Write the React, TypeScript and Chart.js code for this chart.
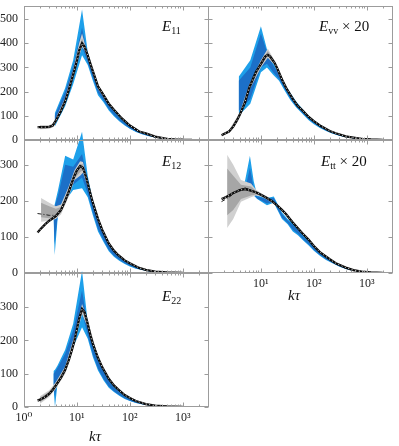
import React, { useEffect, useRef } from 'react';
import { Chart, registerables } from 'chart.js';
Chart.register(...registerables);

// ---------------- axes / ticks ----------------
const X_MIN = 1;
const X_MAX = 3000;
const X_MAJOR = [1, 10, 100, 1000];
const X_LABELS_LEFT = ['10⁰', '10¹', '10²', '10³'];
const X_LABELS_RIGHT = ['', '10¹', '10²', '10³'];
const Y_TICKS_ROW1 = [0, 100, 200, 300, 400, 500];
const Y_TICKS_ROW2 = [0, 100, 200, 300];
const Y_TICKS_ROW3 = [0, 100, 200, 300];

// ---------------- E11 ----------------
const e11K = [1.8, 2, 2.5, 3, 3.5, 4, 5, 6, 7, 8, 9, 10, 11, 12.5, 14, 16, 18, 20, 25, 30, 40, 50, 70, 100, 150, 200, 300, 500, 700, 1000, 1500];
const e11Line = [53, 53, 53, 54, 60, 80, 120, 160, 205, 250, 290, 330, 370, 400, 385, 350, 315, 285, 222, 195, 150, 125, 90, 60, 35, 27, 14, 5, 2.5, 1, 0.3];
const e11BlueK = [3.8, 6, 8.5, 12.5, 16, 20, 25, 32, 40, 50, 63, 80, 100, 130, 170, 220, 300, 400, 550, 750, 1000];
const e11BlueLightHi = [110, 215, 330, 540, 365, 290, 225, 185, 150, 121, 95, 75, 58, 42, 31, 22, 13, 8, 4, 2, 0.8];
const e11BlueLightLo = [55, 140, 230, 350, 310, 245, 185, 155, 122, 98, 78, 60, 46, 33, 24, 17, 10, 6, 3, 1.5, 0.5];
const e11BlueDarkHi = [100, 200, 305, 465, 350, 280, 218, 178, 145, 117, 92, 72, 56, 40, 30, 21, 12.5, 7.5, 3.8, 1.9, 0.75];
const e11BlueDarkLo = [65, 155, 250, 385, 320, 255, 195, 162, 128, 103, 82, 63, 48, 35, 25, 18, 10.5, 6.3, 3.2, 1.6, 0.55];
const e11GrayK = [2, 3, 3.5, 4, 6, 8.5, 11, 12.5, 14, 18, 25, 40];
const e11GrayLightHi = [62, 62, 68, 90, 175, 290, 400, 440, 400, 325, 232, 155];
const e11GrayLightLo = [44, 46, 52, 70, 150, 255, 345, 385, 370, 305, 212, 145];
const e11GrayDarkHi = [58, 58, 64, 86, 168, 282, 385, 420, 392, 320, 228, 153];
const e11GrayDarkLo = [48, 50, 56, 74, 155, 262, 355, 392, 375, 310, 216, 147];

// ---------------- Evv x 20 ----------------
const evvK = [1.8, 2, 2.5, 3, 3.5, 4, 5, 6, 7, 8, 10, 12, 13.5, 15, 18, 20, 25, 30, 40, 50, 60, 80, 100, 130, 200, 260, 400, 560, 800, 1200, 2000];
const evvLine = [20, 25, 35, 55, 80, 105, 155, 215, 250, 280, 315, 345, 352, 345, 320, 300, 250, 215, 170, 140, 124, 95, 78, 60, 37, 28, 15, 10, 5, 2, 0.5];
const evvBlueK = [3.8, 6.3, 10, 13, 17, 22, 28, 36, 46, 60, 80, 100, 130, 170, 220, 300, 400, 550, 750, 1000];
const evvBlueLightHi = [261, 330, 470, 375, 320, 280, 235, 195, 160, 130, 100, 82, 64, 48, 36, 24, 16, 10, 5, 2];
const evvBlueLightLo = [100, 150, 280, 300, 270, 245, 205, 165, 135, 110, 82, 65, 50, 37, 27, 18, 11, 7, 3, 1];
const evvBlueDarkHi = [245, 300, 440, 365, 310, 270, 228, 188, 155, 125, 96, 78, 61, 45, 34, 22, 15, 9, 4, 1.5];
const evvBlueDarkLo = [120, 170, 300, 315, 280, 252, 212, 172, 140, 114, 86, 69, 53, 39, 29, 19, 12, 7.5, 3.5, 1.2];
const evvGrayK = [1.8, 2.5, 4, 6, 10, 13.5, 18, 25, 40];
const evvGrayLightHi = [25, 42, 115, 228, 330, 378, 330, 258, 175];
const evvGrayLightLo = [15, 30, 95, 205, 300, 340, 310, 242, 165];
const evvGrayDarkHi = [23, 39, 110, 222, 322, 368, 326, 255, 173];
const evvGrayDarkLo = [17, 32, 99, 210, 307, 346, 314, 245, 167];

// ---------------- E12 ----------------
const e12K = [1.8, 2, 2.5, 3, 3.5, 4, 5, 6, 7, 8, 9, 10, 11.5, 13, 15, 18, 20, 25, 30, 40, 50, 60, 80, 100, 150, 200, 300, 500, 1000];
const e12Line = [112, 120, 135, 145, 152, 158, 175, 200, 225, 250, 270, 285, 297, 292, 265, 220, 195, 150, 120, 82, 62, 50, 35, 27, 14, 9, 4, 1.5, 0.3];
const e12AltK = [1.8, 2.5, 3, 4, 5, 6];
const e12Alt = [165, 162, 160, 160, 172, 200];
const e12BlueK = [3.6, 3.8, 4.4, 6, 8.5, 12.5, 16, 20, 25, 32, 40, 50, 63, 80, 100, 130, 170, 220, 300, 400, 550, 750, 1000];
const e12BlueLightHi = [178, 190, 230, 325, 315, 392, 270, 200, 150, 115, 83, 62, 47, 34, 26, 18, 12, 8, 4, 2, 1, 0.5, 0.2];
const e12BlueLightLo = [163, 50, 165, 200, 230, 235, 210, 160, 115, 85, 60, 45, 34, 25, 18, 12, 8, 5, 2.5, 1.2, 0.6, 0.3, 0.1];
const e12BlueDarkHi = [175, 185, 215, 300, 295, 330, 260, 190, 143, 110, 78, 58, 44, 32, 24, 16, 11, 7, 3.5, 1.8, 0.9, 0.4, 0.15];
const e12BlueDarkLo = [165, 80, 170, 215, 245, 265, 220, 168, 122, 90, 64, 48, 37, 27, 20, 13, 9, 5.5, 2.8, 1.4, 0.7, 0.35, 0.12];
const e12GrayK = [2.1, 3, 4, 5, 7, 9, 11.5, 13, 16, 20, 30];
const e12GrayLightHi = [208, 195, 185, 190, 240, 285, 310, 308, 255, 200, 123];
const e12GrayLightLo = [142, 145, 150, 162, 212, 258, 270, 278, 240, 190, 117];
const e12GrayDarkHi = [195, 185, 178, 183, 235, 280, 302, 302, 252, 198, 122];
const e12GrayDarkLo = [155, 152, 155, 167, 217, 262, 280, 285, 243, 192, 118];

// ---------------- Ett x 20 ----------------
const ettK = [1.8, 2, 2.5, 3, 4, 5, 6, 8, 10, 13, 16, 20, 25, 30, 40, 50, 60, 80, 100, 130, 200, 260, 400, 560, 800, 1200, 2000];
const ettLine = [205, 208, 215, 222, 230, 233, 230, 224, 217, 208, 200, 188, 175, 163, 140, 124, 111, 92, 75, 58, 38, 27, 15, 8, 4, 1.5, 0.3];
const ettAltK = [1.8, 2.5, 3, 4, 5, 6, 8];
const ettAlt = [198, 210, 220, 232, 236, 232, 224];
const ettBlueK = [3.8, 5, 6.2, 7.3, 8.5, 13, 17.5, 25, 32, 40, 50, 63, 80, 100, 130, 170, 220, 300, 400, 550, 750, 1000];
const ettBlueLightHi = [205, 255, 325, 255, 215, 208, 212, 168, 150, 140, 124, 104, 90, 74, 57, 44, 34, 22, 14, 8, 4, 1.5];
const ettBlueLightLo = [197, 205, 220, 215, 205, 188, 195, 150, 135, 115, 105, 90, 76, 62, 48, 36, 28, 18, 11, 6, 3, 1];
const ettBlueDarkHi = [203, 230, 292, 235, 212, 205, 208, 164, 146, 134, 120, 100, 87, 71, 55, 42, 32, 21, 13, 7.5, 3.8, 1.4];
const ettBlueDarkLo = [199, 208, 225, 218, 207, 193, 198, 154, 139, 120, 109, 93, 79, 64, 50, 38, 29, 19, 12, 6.5, 3.2, 1.1];
const ettGrayK = [2.3, 3, 4.2, 6.5, 8, 10, 13, 20];
const ettGrayLightHi = [328, 300, 258, 248, 232, 222, 212, 190];
const ettGrayLightLo = [125, 150, 198, 210, 215, 212, 204, 186];
const ettGrayDarkHi = [290, 270, 245, 240, 228, 220, 210, 189];
const ettGrayDarkLo = [160, 175, 205, 215, 218, 214, 206, 187];

// ---------------- E22 ----------------
const e22K = [1.8, 2, 2.5, 3, 3.5, 4, 5, 6, 7, 8, 9, 10, 11, 12.5, 14, 16, 18, 20, 25, 30, 40, 50, 60, 80, 100, 130, 200, 300, 500, 1000];
const e22Line = [19, 22, 30, 40, 52, 65, 88, 112, 140, 170, 200, 235, 265, 295, 285, 250, 215, 190, 148, 120, 85, 65, 53, 36, 27, 18, 9, 4, 1.5, 0.3];
const e22BlueK = [3.6, 3.85, 4.3, 6, 8.5, 12.5, 16, 20, 25, 32, 40, 50, 63, 80, 100, 130, 170, 220, 300, 400, 550, 750, 1000];
const e22BlueLightHi = [108, 112, 125, 172, 250, 410, 255, 185, 145, 110, 82, 62, 46, 33, 25, 17, 11, 7, 3.5, 1.8, 0.8, 0.4, 0.1];
const e22BlueLightLo = [60, 0, 70, 110, 180, 240, 205, 150, 110, 80, 58, 45, 34, 24, 18, 12, 8, 5, 2.5, 1.2, 0.5, 0.2, 0.05];
const e22BlueDarkHi = [100, 105, 118, 160, 230, 350, 245, 178, 140, 105, 78, 59, 44, 31, 23, 16, 10, 6.5, 3.2, 1.6, 0.7, 0.35, 0.08];
const e22BlueDarkLo = [70, 30, 80, 120, 195, 285, 215, 158, 116, 84, 62, 47, 36, 26, 19, 13, 8.5, 5.3, 2.7, 1.3, 0.6, 0.25, 0.06];
const e22GrayK = [2, 3, 4, 6, 9, 12.5, 16, 25];
const e22GrayLightHi = [32, 50, 75, 122, 215, 310, 262, 153];
const e22GrayLightLo = [10, 30, 55, 100, 190, 280, 240, 143];
const e22GrayDarkHi = [28, 46, 71, 118, 210, 303, 258, 151];
const e22GrayDarkLo = [14, 34, 59, 105, 195, 287, 244, 145];

// ---------------- styles ----------------
const BLUE_LIGHT = '#1ea0ea';
const BLUE_DARK = '#1c70c8';
const GRAY_LIGHT = '#d0d0d0';
const GRAY_DARK = '#a6a6a6';
const FRAME = '#9c9c9c';
const TEXT = '#222';
const FONT = "'Liberation Serif', 'DejaVu Serif', serif";
const CW = 399;
const CH = 446;
const X_AXIS_H = 32;

type Series = { k: number[]; v: number[] };
type Band = { k: number[]; hi: number[]; lo: number[] };
type PanelDef = {
  line: Series;
  alt?: Series;
  blueLight: Band;
  blueDark: Band;
  grayLight: Band;
  grayDark: Band;
  yMax: number;
  yTicks: number[];
  xLabels: string[];
  ext: number;
  left: number;
  right: number;
  top: number;
  bottom: number;
  showX: boolean;
  showY: boolean;
};

const pts = (k: number[], v: number[]) => k.map((x, i) => ({ x, y: v[i] }));

const xTickValues: number[] = [];
for (let e = 0; e <= 3; e++) {
  for (let m = 1; m <= 9; m++) {
    const v = m * Math.pow(10, e);
    if (v <= X_MAX) xTickValues.push(v);
  }
}

function bandSets(b: Band, color: string, order: number) {
  return [
    { data: pts(b.k, b.hi), borderColor: 'transparent', borderWidth: 0, backgroundColor: color, pointRadius: 0, fill: '+1', order },
    { data: pts(b.k, b.lo), borderColor: 'transparent', borderWidth: 0, backgroundColor: color, pointRadius: 0, fill: false, order },
  ];
}

function framePlugin(p: PanelDef) {
  return {
    id: 'frameTicks',
    afterDatasetsDraw(chart: any) {
      const { ctx, chartArea: a, scales } = chart;
      const xs = scales.x;
      const ys = scales.y;
      const top = Math.round(ys.getPixelForValue(p.yMax)) + 0.5;
      const bottom = Math.round(a.bottom) - 0.5;
      const left = Math.round(a.left) + 0.5;
      const right = Math.round(a.right) + 0.5;
      ctx.save();
      ctx.strokeStyle = FRAME;
      ctx.lineWidth = 1;
      ctx.strokeRect(left, top, right - left, bottom - top);
      ctx.beginPath();
      for (const t of xs.ticks) {
        const px = Math.round(xs.getPixelForValue(t.value)) + 0.5;
        const len = X_MAJOR.includes(t.value) ? 4 : 2;
        ctx.moveTo(px, bottom); ctx.lineTo(px, bottom - len);
        ctx.moveTo(px, top); ctx.lineTo(px, top + len);
      }
      for (const t of ys.ticks) {
        const py = Math.round(ys.getPixelForValue(t.value)) + 0.5;
        ctx.moveTo(left, py); ctx.lineTo(left + 4, py);
        ctx.moveTo(right, py); ctx.lineTo(right - 4, py);
      }
      ctx.stroke();
      ctx.restore();
    },
  };
}

function buildConfig(p: PanelDef): any {
  const frameH = p.bottom - p.top;
  const topPad = p.bottom - frameH * p.ext;
  const yAxisW = p.showY ? p.left : 0;
  const xAxisH = p.showX ? X_AXIS_H : 0;
  const datasets: any[] = [
    { data: pts(p.line.k, p.line.v), borderColor: '#ffffff', borderWidth: 0.8, borderDash: [1.2, 2.4], pointRadius: 0, fill: false, order: 0 },
    { data: pts(p.line.k, p.line.v), borderColor: '#0a0a0a', borderWidth: 2.3, pointRadius: 0, fill: false, order: 1 },
  ];
  if (p.alt) {
    datasets.push({ data: pts(p.alt.k, p.alt.v), borderColor: '#222', borderWidth: 1, borderDash: [4, 2, 1, 2], pointRadius: 0, fill: false, order: 1 });
  }
  datasets.push(...bandSets(p.grayDark, GRAY_DARK, 2));
  datasets.push(...bandSets(p.grayLight, GRAY_LIGHT, 3));
  datasets.push(...bandSets(p.blueDark, BLUE_DARK, 4));
  datasets.push(...bandSets(p.blueLight, BLUE_LIGHT, 5));

  return {
    type: 'line',
    data: { datasets },
    options: {
      responsive: false,
      animation: false,
      devicePixelRatio: 1,
      parsing: false,
      normalized: true,
      layout: { padding: { left: p.left - yAxisW, right: CW - p.right, top: topPad, bottom: CH - p.bottom - xAxisH } },
      plugins: { legend: { display: false }, tooltip: { enabled: false }, title: { display: false } },
      elements: { line: { tension: 0 } },
      scales: {
        x: {
          type: 'logarithmic',
          min: X_MIN,
          max: X_MAX,
          grid: { display: false, drawTicks: false },
          border: { display: false },
          afterBuildTicks: (s: any) => { s.ticks = xTickValues.map((v) => ({ value: v })); },
          afterFit: (s: any) => { s.height = xAxisH; s.paddingLeft = 0; s.paddingRight = 0; },
          ticks: {
            display: p.showX,
            autoSkip: false,
            maxRotation: 0,
            minRotation: 0,
            padding: 5,
            color: TEXT,
            font: { family: FONT, size: 12, lineHeight: 1 },
            callback: (v: number) => {
              const i = X_MAJOR.indexOf(v);
              return i >= 0 ? p.xLabels[i] : '';
            },
          },
        },
        y: {
          type: 'linear',
          min: 0,
          max: p.yMax * p.ext,
          grid: { display: false, drawTicks: false },
          border: { display: false },
          afterBuildTicks: (s: any) => { s.ticks = p.yTicks.map((v) => ({ value: v })); },
          afterFit: (s: any) => { s.width = yAxisW; s.paddingTop = 0; s.paddingBottom = 0; },
          ticks: {
            display: p.showY,
            padding: 6,
            color: TEXT,
            font: { family: FONT, size: 12, lineHeight: 1 },
            callback: (v: number) => String(v),
          },
        },
      },
    },
    plugins: [framePlugin(p)],
  };
}

const PANELS: PanelDef[] = [
  {
    line: { k: e11K, v: e11Line },
    blueLight: { k: e11BlueK, hi: e11BlueLightHi, lo: e11BlueLightLo },
    blueDark: { k: e11BlueK, hi: e11BlueDarkHi, lo: e11BlueDarkLo },
    grayLight: { k: e11GrayK, hi: e11GrayLightHi, lo: e11GrayLightLo },
    grayDark: { k: e11GrayK, hi: e11GrayDarkHi, lo: e11GrayDarkLo },
    yMax: 554, yTicks: Y_TICKS_ROW1, xLabels: X_LABELS_LEFT, ext: 1,
    left: 24, right: 208, top: 6, bottom: 140, showX: false, showY: true,
  },
  {
    line: { k: evvK, v: evvLine },
    blueLight: { k: evvBlueK, hi: evvBlueLightHi, lo: evvBlueLightLo },
    blueDark: { k: evvBlueK, hi: evvBlueDarkHi, lo: evvBlueDarkLo },
    grayLight: { k: evvGrayK, hi: evvGrayLightHi, lo: evvGrayLightLo },
    grayDark: { k: evvGrayK, hi: evvGrayDarkHi, lo: evvGrayDarkLo },
    yMax: 554, yTicks: Y_TICKS_ROW1, xLabels: X_LABELS_RIGHT, ext: 1,
    left: 208, right: 392, top: 6, bottom: 140, showX: false, showY: false,
  },
  {
    line: { k: e12K, v: e12Line },
    alt: { k: e12AltK, v: e12Alt },
    blueLight: { k: e12BlueK, hi: e12BlueLightHi, lo: e12BlueLightLo },
    blueDark: { k: e12BlueK, hi: e12BlueDarkHi, lo: e12BlueDarkLo },
    grayLight: { k: e12GrayK, hi: e12GrayLightHi, lo: e12GrayLightLo },
    grayDark: { k: e12GrayK, hi: e12GrayDarkHi, lo: e12GrayDarkLo },
    yMax: 369, yTicks: Y_TICKS_ROW2, xLabels: X_LABELS_LEFT, ext: 1.12,
    left: 24, right: 208, top: 140, bottom: 273, showX: false, showY: true,
  },
  {
    line: { k: ettK, v: ettLine },
    alt: { k: ettAltK, v: ettAlt },
    blueLight: { k: ettBlueK, hi: ettBlueLightHi, lo: ettBlueLightLo },
    blueDark: { k: ettBlueK, hi: ettBlueDarkHi, lo: ettBlueDarkLo },
    grayLight: { k: ettGrayK, hi: ettGrayLightHi, lo: ettGrayLightLo },
    grayDark: { k: ettGrayK, hi: ettGrayDarkHi, lo: ettGrayDarkLo },
    yMax: 369, yTicks: Y_TICKS_ROW2, xLabels: X_LABELS_RIGHT, ext: 1.12,
    left: 208, right: 392, top: 140, bottom: 273, showX: true, showY: false,
  },
  {
    line: { k: e22K, v: e22Line },
    blueLight: { k: e22BlueK, hi: e22BlueLightHi, lo: e22BlueLightLo },
    blueDark: { k: e22BlueK, hi: e22BlueDarkHi, lo: e22BlueDarkLo },
    grayLight: { k: e22GrayK, hi: e22GrayLightHi, lo: e22GrayLightLo },
    grayDark: { k: e22GrayK, hi: e22GrayDarkHi, lo: e22GrayDarkLo },
    yMax: 403, yTicks: Y_TICKS_ROW3, xLabels: X_LABELS_LEFT, ext: 1.08,
    left: 24, right: 208, top: 273, bottom: 407, showX: true, showY: true,
  },
];

function PanelChart({ p }: { p: PanelDef }) {
  const ref = useRef<HTMLCanvasElement>(null);
  useEffect(() => {
    const chart = new Chart(ref.current as HTMLCanvasElement, buildConfig(p));
    return () => chart.destroy();
  }, [p]);
  return (
    <canvas
      ref={ref}
      width={CW}
      height={CH}
      style={{ position: 'absolute', left: 0, top: 0, width: CW, height: CH }}
    />
  );
}

const txt: React.CSSProperties = {
  position: 'absolute',
  fontFamily: FONT,
  color: '#111',
  whiteSpace: 'nowrap',
  lineHeight: 1,
  fontSize: 15,
};
const subStyle: React.CSSProperties = { fontSize: 10, fontStyle: 'normal', verticalAlign: -3 };

function PanelLabel({ left, top, sub, suffix }: { left: number; top: number; sub: string; suffix?: string }) {
  return (
    <div style={{ ...txt, left, top }}>
      <i>E</i>
      <span style={subStyle}>{sub}</span>
      {suffix ? <span> {suffix}</span> : null}
    </div>
  );
}

export default function App() {
  return (
    <div style={{ position: 'absolute', left: 0, top: 0, width: CW, height: CH, background: '#fff', overflow: 'hidden' }}>
      {PANELS.map((p, i) => (
        <PanelChart key={i} p={p} />
      ))}
      <PanelLabel left={162} top={19} sub="11" />
      <PanelLabel left={319} top={19} sub="vv" suffix="× 20" />
      <PanelLabel left={162} top={154} sub="12" />
      <PanelLabel left={321} top={154} sub="tt" suffix="× 20" />
      <PanelLabel left={162} top={289} sub="22" />
      <div style={{ ...txt, left: 89, top: 429, fontSize: 15 }}><i>kτ</i></div>
      <div style={{ ...txt, left: 288, top: 288, fontSize: 15 }}><i>kτ</i></div>
    </div>
  );
}
